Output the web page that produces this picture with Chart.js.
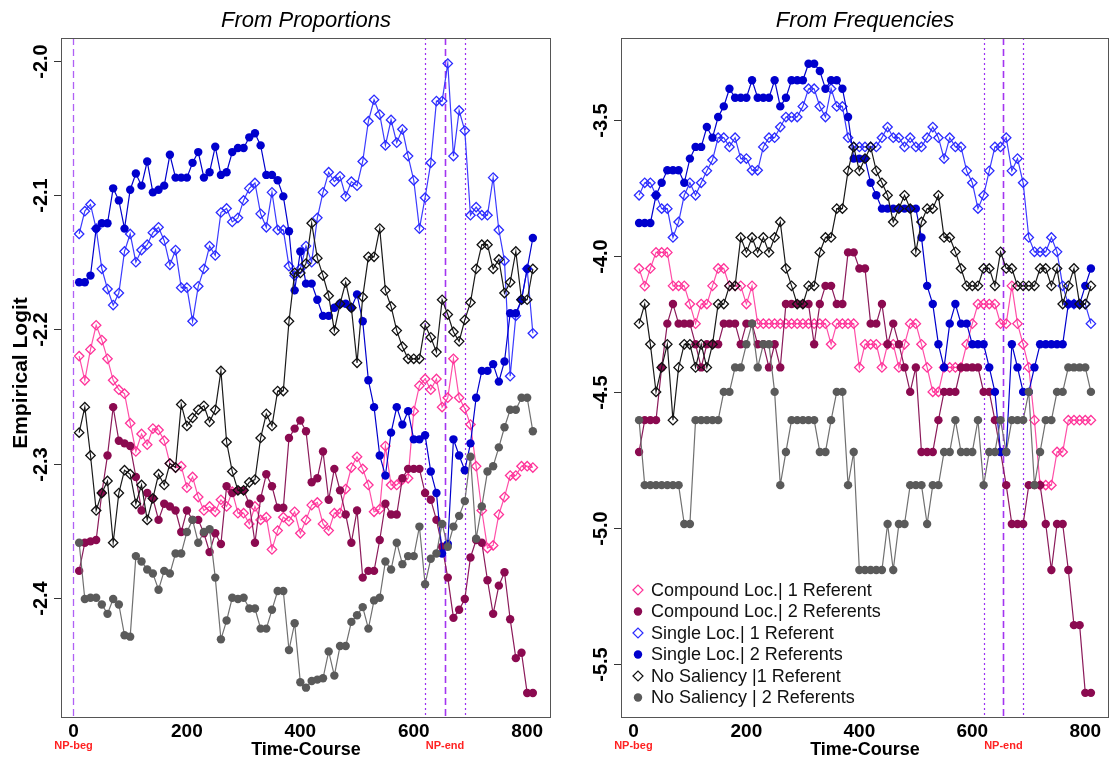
<!DOCTYPE html>
<html>
<head>
<meta charset="utf-8">
<title>Empirical Logit</title>
<script src="https://cdn.jsdelivr.net/npm/chart.js"></script>
<style>
  body { margin: 0; background: #fff; }
  canvas { position: absolute; top: 0; }
  #cProp { left: 0; }
  #cFreq { left: 558px; }
</style>
</head>
<body>
<canvas id="cProp" width="557" height="763"></canvas>
<canvas id="cFreq" width="557" height="763"></canvas>
<script>
// ====== Dados ======
const times = [10, 20, 30, 40, 50, 60, 70, 80, 90, 100,
  110, 120, 130, 140, 150, 160, 170, 180, 190, 200,
  210, 220, 230, 240, 250, 260, 270, 280, 290, 300,
  310, 320, 330, 340, 350, 360, 370, 380, 390, 400,
  410, 420, 430, 440, 450, 460, 470, 480, 490, 500,
  510, 520, 530, 540, 550, 560, 570, 580, 590, 600,
  610, 620, 630, 640, 650, 660, 670, 680, 690, 700,
  710, 720, 730, 740, 750, 760, 770, 780, 790, 800, 810];

const seriesLabels = ["Compound Loc.| 1 Referent", "Compound Loc.| 2 Referents",
  "Single Loc.| 1 Referent", "Single Loc.| 2 Referents",
  "No Saliency |1 Referent", "No Saliency | 2 Referents"];

const timeTicks = [0, 200, 400, 600, 800];
const propTicks = [-2.4, -2.3, -2.2, -2.1, -2.0];
const freqTicks = [-5.5, -5.0, -4.5, -4.0, -3.5];

const npBeg = 0;
const npEnd = 655;
const npWindow = 35;

// ----- From Proportions -----
const propCompound1 = [-2.220, -2.238, -2.215, -2.197, -2.208, -2.222, -2.238, -2.245, -2.248, -2.270,
  -2.291, -2.278, -2.286, -2.274, -2.275, -2.283, -2.300, -2.303, -2.302, -2.318,
  -2.310, -2.325, -2.335, -2.332, -2.336, -2.327, -2.332, -2.321, -2.337, -2.337,
  -2.345, -2.332, -2.342, -2.340, -2.364, -2.350, -2.340, -2.343, -2.336, -2.352,
  -2.342, -2.331, -2.329, -2.345, -2.350, -2.337, -2.337, -2.319, -2.303, -2.295,
  -2.304, -2.316, -2.336, -2.334, -2.287, -2.316, -2.316, -2.312, -2.311, -2.261,
  -2.242, -2.237, -2.245, -2.237, -2.258, -2.251, -2.222, -2.251, -2.259, -2.271,
  -2.302, -2.335, -2.363, -2.361, -2.338, -2.325, -2.309, -2.309, -2.302, -2.302, -2.303];

const propCompound2 = [-2.380, -2.359, -2.358, -2.357, -2.322, -2.294, -2.258, -2.283, -2.285, -2.287,
  -2.310, -2.335, -2.322, -2.326, -2.342, -2.330, -2.332, -2.335, -2.351, -2.335,
  -2.342, -2.342, -2.352, -2.366, -2.352, -2.360, -2.317, -2.322, -2.320, -2.320,
  -2.330, -2.359, -2.326, -2.308, -2.317, -2.333, -2.333, -2.281, -2.274, -2.268,
  -2.276, -2.314, -2.311, -2.291, -2.327, -2.304, -2.320, -2.338, -2.359, -2.335,
  -2.385, -2.380, -2.380, -2.357, -2.330, -2.338, -2.338, -2.311, -2.304, -2.304,
  -2.304, -2.322, -2.327, -2.342, -2.362, -2.385, -2.415, -2.409, -2.401, -2.370,
  -2.357, -2.359, -2.387, -2.412, -2.391, -2.381, -2.416, -2.445, -2.441, -2.471, -2.471];

const propSingle1 = [-2.129, -2.112, -2.107, -2.125, -2.155, -2.170, -2.182, -2.173, -2.142, -2.129,
  -2.150, -2.141, -2.137, -2.128, -2.124, -2.134, -2.152, -2.141, -2.169, -2.169,
  -2.194, -2.168, -2.155, -2.138, -2.145, -2.113, -2.110, -2.120, -2.117, -2.104,
  -2.095, -2.091, -2.114, -2.124, -2.098, -2.126, -2.126, -2.153, -2.160, -2.155,
  -2.138, -2.150, -2.117, -2.098, -2.083, -2.090, -2.086, -2.101, -2.090, -2.093,
  -2.075, -2.045, -2.029, -2.040, -2.063, -2.044, -2.061, -2.051, -2.071, -2.089,
  -2.125, -2.102, -2.076, -2.030, -2.030, -2.002, -2.071, -2.037, -2.052, -2.115,
  -2.109, -2.115, -2.115, -2.087, -2.126, -2.149, -2.235, -2.190, -2.178, -2.155, -2.203];

const propSingle2 = [-2.165, -2.165, -2.160, -2.125, -2.121, -2.121, -2.095, -2.104, -2.125, -2.096,
  -2.084, -2.093, -2.075, -2.098, -2.096, -2.093, -2.070, -2.087, -2.087, -2.087,
  -2.076, -2.068, -2.087, -2.083, -2.064, -2.085, -2.083, -2.068, -2.065, -2.065,
  -2.057, -2.054, -2.063, -2.085, -2.085, -2.089, -2.101, -2.127, -2.171, -2.142,
  -2.166, -2.166, -2.178, -2.190, -2.190, -2.184, -2.181, -2.181, -2.184, -2.174,
  -2.194, -2.238, -2.258, -2.294, -2.309, -2.277, -2.258, -2.271, -2.261, -2.282,
  -2.282, -2.279, -2.306, -2.322, -2.367, -2.360, -2.282, -2.294, -2.305, -2.285,
  -2.251, -2.231, -2.231, -2.226, -2.239, -2.224, -2.188, -2.188, -2.178, -2.155, -2.132];

const propNoSal1 = [-2.277, -2.258, -2.294, -2.335, -2.322, -2.313, -2.359, -2.322, -2.305, -2.308,
  -2.330, -2.316, -2.342, -2.326, -2.308, -2.316, -2.300, -2.303, -2.256, -2.272,
  -2.266, -2.260, -2.257, -2.269, -2.260, -2.231, -2.284, -2.306, -2.320, -2.320,
  -2.314, -2.312, -2.281, -2.263, -2.272, -2.246, -2.246, -2.194, -2.158, -2.158,
  -2.151, -2.121, -2.147, -2.160, -2.175, -2.201, -2.181, -2.165, -2.184, -2.225,
  -2.176, -2.146, -2.146, -2.125, -2.171, -2.183, -2.201, -2.213, -2.222, -2.222,
  -2.222, -2.197, -2.206, -2.217, -2.178, -2.189, -2.202, -2.209, -2.193, -2.180,
  -2.155, -2.137, -2.137, -2.155, -2.148, -2.173, -2.165, -2.142, -2.178, -2.178, -2.155];

const propNoSal2 = [-2.359, -2.401, -2.400, -2.400, -2.405, -2.412, -2.401, -2.405, -2.428, -2.429,
  -2.369, -2.373, -2.379, -2.382, -2.394, -2.380, -2.382, -2.367, -2.367, -2.351,
  -2.342, -2.359, -2.351, -2.349, -2.385, -2.431, -2.417, -2.400, -2.401, -2.400,
  -2.408, -2.408, -2.423, -2.423, -2.409, -2.395, -2.395, -2.439, -2.419, -2.463,
  -2.467, -2.462, -2.461, -2.460, -2.440, -2.458, -2.436, -2.436, -2.418, -2.413,
  -2.407, -2.423, -2.402, -2.400, -2.373, -2.379, -2.359, -2.375, -2.369, -2.369,
  -2.347, -2.390, -2.371, -2.367, -2.345, -2.362, -2.347, -2.339, -2.328, -2.295,
  -2.356, -2.332, -2.306, -2.302, -2.288, -2.273, -2.260, -2.260, -2.251, -2.251, -2.276];

// ----- From Frequencies -----
const freqCompound1 = [-4.045, -4.110, -4.045, -3.986, -3.986, -3.986, -4.109, -4.109, -4.109, -4.176,
  -4.248, -4.176, -4.176, -4.109, -4.045, -4.045, -4.109, -4.109, -4.109, -4.176,
  -4.109, -4.248, -4.248, -4.248, -4.248, -4.248, -4.248, -4.248, -4.248, -4.248,
  -4.248, -4.248, -4.248, -4.248, -4.324, -4.248, -4.248, -4.248, -4.248, -4.409,
  -4.324, -4.324, -4.324, -4.409, -4.324, -4.324, -4.409, -4.324, -4.248, -4.248,
  -4.324, -4.409, -4.499, -4.499, -4.409, -4.409, -4.409, -4.409, -4.324, -4.248,
  -4.176, -4.176, -4.176, -4.176, -4.248, -4.248, -4.109, -4.248, -4.324, -4.409,
  -4.603, -4.842, -4.842, -4.842, -4.720, -4.720, -4.603, -4.603, -4.603, -4.603, -4.603];

const freqCompound2 = [-4.720, -4.603, -4.603, -4.603, -4.409, -4.248, -4.176, -4.248, -4.248, -4.248,
  -4.324, -4.409, -4.324, -4.324, -4.324, -4.248, -4.248, -4.248, -4.324, -4.248,
  -4.248, -4.324, -4.324, -4.409, -4.324, -4.409, -4.176, -4.176, -4.176, -4.176,
  -4.176, -4.324, -4.176, -4.109, -4.109, -4.176, -4.176, -3.986, -3.986, -4.045,
  -4.045, -4.248, -4.248, -4.176, -4.324, -4.248, -4.324, -4.409, -4.499, -4.409,
  -4.720, -4.720, -4.720, -4.603, -4.499, -4.499, -4.499, -4.409, -4.409, -4.409,
  -4.409, -4.499, -4.499, -4.603, -4.720, -4.842, -4.985, -4.985, -4.985, -4.842,
  -4.842, -4.842, -4.985, -5.154, -4.985, -4.985, -5.154, -5.357, -5.357, -5.606, -5.606];

const freqSingle1 = [-3.776, -3.730, -3.730, -3.776, -3.825, -3.825, -3.931, -3.874, -3.776, -3.730,
  -3.776, -3.730, -3.686, -3.646, -3.564, -3.564, -3.598, -3.564, -3.641, -3.641,
  -3.684, -3.684, -3.598, -3.564, -3.564, -3.525, -3.488, -3.488, -3.488, -3.449,
  -3.384, -3.384, -3.449, -3.488, -3.384, -3.449, -3.449, -3.564, -3.598, -3.598,
  -3.598, -3.598, -3.598, -3.564, -3.525, -3.564, -3.564, -3.598, -3.564, -3.598,
  -3.598, -3.564, -3.525, -3.564, -3.641, -3.564, -3.598, -3.598, -3.686, -3.730,
  -3.825, -3.776, -3.686, -3.598, -3.598, -3.564, -3.686, -3.641, -3.730, -3.931,
  -3.984, -3.984, -3.984, -3.931, -3.984, -4.109, -4.176, -4.176, -4.176, -4.176, -4.248];

const freqSingle2 = [-3.878, -3.878, -3.878, -3.776, -3.730, -3.684, -3.684, -3.684, -3.730, -3.641,
  -3.598, -3.598, -3.525, -3.564, -3.488, -3.449, -3.384, -3.417, -3.417, -3.417,
  -3.353, -3.417, -3.417, -3.417, -3.353, -3.449, -3.417, -3.353, -3.353, -3.353,
  -3.292, -3.292, -3.319, -3.384, -3.353, -3.353, -3.384, -3.488, -3.641, -3.641,
  -3.641, -3.730, -3.776, -3.825, -3.825, -3.825, -3.825, -3.825, -3.825, -3.825,
  -3.931, -4.109, -4.176, -4.324, -4.409, -4.248, -4.176, -4.248, -4.248, -4.324,
  -4.324, -4.324, -4.409, -4.499, -4.720, -4.720, -4.324, -4.409, -4.499, -4.499,
  -4.409, -4.324, -4.324, -4.324, -4.324, -4.324, -4.176, -4.176, -4.176, -4.109, -4.045];

const freqNoSal1 = [-4.248, -4.176, -4.324, -4.499, -4.409, -4.324, -4.603, -4.409, -4.324, -4.324,
  -4.409, -4.324, -4.409, -4.324, -4.176, -4.176, -4.109, -4.109, -3.931, -3.986,
  -3.931, -3.986, -3.931, -3.986, -3.931, -3.874, -4.045, -4.109, -4.176, -4.176,
  -4.109, -4.109, -3.986, -3.931, -3.931, -3.825, -3.825, -3.686, -3.598, -3.686,
  -3.641, -3.598, -3.686, -3.730, -3.776, -3.874, -3.825, -3.776, -3.825, -3.984,
  -3.874, -3.825, -3.825, -3.776, -3.931, -3.931, -3.984, -4.045, -4.109, -4.109,
  -4.109, -4.045, -4.045, -4.109, -3.984, -4.045, -4.045, -4.109, -4.109, -4.109,
  -4.109, -4.045, -4.045, -4.109, -4.045, -4.176, -4.109, -4.045, -4.176, -4.176, -4.109];

const freqNoSal2 = [-4.603, -4.842, -4.842, -4.842, -4.842, -4.842, -4.842, -4.842, -4.985, -4.985,
  -4.603, -4.603, -4.603, -4.603, -4.603, -4.499, -4.499, -4.409, -4.409, -4.324,
  -4.248, -4.409, -4.324, -4.324, -4.499, -4.842, -4.720, -4.603, -4.603, -4.603,
  -4.603, -4.603, -4.720, -4.720, -4.603, -4.499, -4.499, -4.842, -4.720, -5.154,
  -5.154, -5.154, -5.154, -5.154, -4.985, -5.154, -4.985, -4.985, -4.842, -4.842,
  -4.842, -4.985, -4.842, -4.842, -4.720, -4.720, -4.603, -4.720, -4.720, -4.720,
  -4.603, -4.842, -4.720, -4.720, -4.603, -4.720, -4.603, -4.603, -4.603, -4.499,
  -4.842, -4.720, -4.603, -4.603, -4.499, -4.499, -4.409, -4.409, -4.409, -4.409, -4.499];

// ====== Estilos das séries ======
const styles = [
  { line: "#ff4fa8", color: "#ff3399", shape: "rectRot", fill: "rgba(0,0,0,0)", r: 4.7, bw: 1.3, order: 5 },
  { line: "#8b1a5a", color: "#8b0a50", shape: "circle", fill: "#8b0a50", r: 4.2, bw: 0, order: 4 },
  { line: "#3b3bff", color: "#2b2bff", shape: "rectRot", fill: "rgba(0,0,0,0)", r: 4.7, bw: 1.3, order: 3 },
  { line: "#0000cd", color: "#0000cd", shape: "circle", fill: "#0000cd", r: 4.2, bw: 0, order: 2 },
  { line: "#1a1a1a", color: "#111111", shape: "rectRot", fill: "rgba(0,0,0,0)", r: 4.7, bw: 1.3, order: 1 },
  { line: "#707070", color: "#5a5a5a", shape: "circle", fill: "#5a5a5a", r: 4.2, bw: 0, order: 0 }
];

const FONT = '"Liberation Sans", Arial, Helvetica, sans-serif';

// ====== Decoração do painel (caixa, eixos, títulos, legenda) ======
const panelDecor = {
  id: "panelDecor",
  beforeDatasetsDraw(chart, args, o) {
    const { ctx, chartArea: a, scales: { x } } = chart;
    const lines = [
      { at: npEnd - npWindow, dash: [2, 3], width: 1.2, color: "#9b30f2" },
      { at: npEnd, dash: [7, 4], width: 1.6, color: "#a335f0" },
      { at: npEnd + npWindow, dash: [2, 3], width: 1.2, color: "#9b30f2" }
    ];
    if (o.begLine) lines.push({ at: npBeg, dash: [7, 4], width: 1.3, color: "#b060f5" });
    ctx.save();
    lines.forEach(l => {
      const px = Math.round(x.getPixelForValue(l.at)) + 0.5;
      ctx.strokeStyle = l.color;
      ctx.lineWidth = l.width;
      ctx.setLineDash(l.dash);
      ctx.beginPath();
      ctx.moveTo(px, a.top);
      ctx.lineTo(px, a.bottom);
      ctx.stroke();
    });
    ctx.restore();
  },
  afterDraw(chart, args, o) {
    const { ctx, chartArea: a, scales: { x, y } } = chart;
    const midX = (a.left + a.right) / 2;
    ctx.save();

    // caixa
    ctx.strokeStyle = "#555";
    ctx.lineWidth = 1;
    ctx.strokeRect(a.left + 0.5, a.top + 0.5, a.width - 1, a.height - 1);

    // eixo y: marcas e rótulos verticais
    ctx.fillStyle = "#000";
    ctx.strokeStyle = "#333";
    ctx.font = "bold 20px " + FONT;
    ctx.textAlign = "center";
    ctx.textBaseline = "middle";
    o.yTicks.forEach(v => {
      const py = Math.round(y.getPixelForValue(v)) + 0.5;
      ctx.beginPath();
      ctx.moveTo(a.left - 7, py);
      ctx.lineTo(a.left, py);
      ctx.stroke();
      ctx.save();
      ctx.translate(a.left - 20, py);
      ctx.rotate(-Math.PI / 2);
      ctx.fillText(v.toFixed(1), 0, 0);
      ctx.restore();
    });

    // eixo x: rótulos
    ctx.font = "bold 19px " + FONT;
    timeTicks.forEach(v => {
      ctx.fillText(String(v), x.getPixelForValue(v), a.bottom + 14);
    });

    // marcadores NP
    ctx.fillStyle = "#ff2222";
    ctx.font = "bold 11px " + FONT;
    ctx.fillText("NP-beg", x.getPixelForValue(npBeg), a.bottom + 28);
    ctx.fillText("NP-end", x.getPixelForValue(npEnd), a.bottom + 28);

    // títulos
    ctx.fillStyle = "#000";
    ctx.font = "bold 18px " + FONT;
    ctx.fillText("Time-Course", midX, a.bottom + 32);
    ctx.font = "italic 22px " + FONT;
    ctx.fillText(o.title, midX, 21);
    if (o.yTitle) {
      ctx.save();
      ctx.font = "bold 21px " + FONT;
      ctx.translate(21, 373);
      ctx.rotate(-Math.PI / 2);
      ctx.fillText(o.yTitle, 0, 0);
      ctx.restore();
    }

    // legenda
    if (o.legend) {
      ctx.font = "18px " + FONT;
      ctx.textAlign = "left";
      seriesLabels.forEach((lab, i) => {
        const st = styles[i];
        const ly = 590 + i * 21.5;
        const lx = a.left + 17;
        ctx.beginPath();
        if (st.shape === "circle") {
          ctx.fillStyle = st.color;
          ctx.arc(lx, ly, 4.2, 0, Math.PI * 2);
          ctx.fill();
        } else {
          ctx.strokeStyle = st.color;
          ctx.lineWidth = 1.2;
          ctx.moveTo(lx - 5, ly);
          ctx.lineTo(lx, ly - 5);
          ctx.lineTo(lx + 5, ly);
          ctx.lineTo(lx, ly + 5);
          ctx.closePath();
          ctx.stroke();
        }
        ctx.fillStyle = "#111";
        ctx.fillText(lab, lx + 13, ly + 1);
      });
    }
    ctx.restore();
  }
};

// ====== Montar um painel ======
function makePanel(id, cfg) {
  new Chart(document.getElementById(id), {
    type: "line",
    data: {
      datasets: cfg.series.map((s, i) => ({
        label: seriesLabels[i],
        data: times.map((t, j) => ({ x: t, y: s[j] })),
        borderColor: styles[i].line,
        borderWidth: 1.2,
        pointStyle: styles[i].shape,
        pointRadius: styles[i].r,
        pointBorderColor: styles[i].color,
        pointBackgroundColor: styles[i].fill,
        pointBorderWidth: styles[i].bw,
        order: styles[i].order
      }))
    },
    options: {
      responsive: false,
      animation: false,
      events: [],
      layout: { padding: cfg.pad },
      scales: {
        x: { type: "linear", display: false, min: -22, max: 842 },
        y: { type: "linear", display: false, min: cfg.yMin, max: cfg.yMax }
      },
      plugins: {
        legend: { display: false },
        tooltip: { enabled: false },
        panelDecor: { title: cfg.title, yTitle: cfg.yTitle, yTicks: cfg.yTicks, legend: cfg.legend, begLine: cfg.begLine }
      }
    },
    plugins: [panelDecor]
  });
}

makePanel("cProp", {
  title: "From Proportions",
  yTitle: "Empirical Logit",
  yTicks: propTicks,
  yMin: -2.4896, yMax: -1.983,
  pad: { left: 61, top: 38, right: 4, bottom: 45 },
  legend: false,
  begLine: true,
  series: [propCompound1, propCompound2, propSingle1, propSingle2, propNoSal1, propNoSal2]
});

makePanel("cFreq", {
  title: "From Frequencies",
  yTitle: null,
  yTicks: freqTicks,
  yMin: -5.6985, yMax: -3.1974,
  pad: { left: 63, top: 38, right: 2, bottom: 45 },
  legend: true,
  begLine: false,
  series: [freqCompound1, freqCompound2, freqSingle1, freqSingle2, freqNoSal1, freqNoSal2]
});
</script>
</body>
</html>
